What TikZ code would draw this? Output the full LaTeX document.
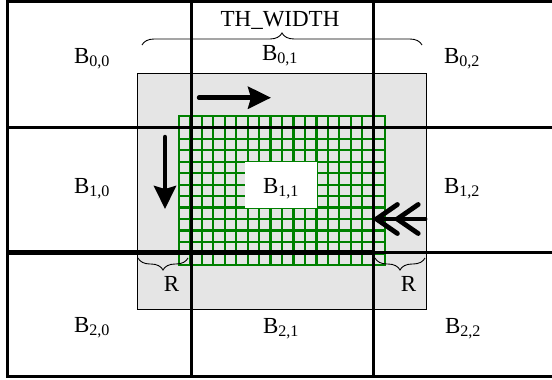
\documentclass[tikz,border=0pt]{standalone}
\usepackage{fontspec}
\setmainfont{Liberation Serif}
\usepackage{xcolor}
\usetikzlibrary{arrows.meta, decorations.pathreplacing}
\definecolor{tgreen}{RGB}{0,128,0}
\definecolor{tgray}{RGB}{229,229,229}

\begin{document}
\begin{tikzpicture}[x=1bp, y=-1bp,
  font=\fontsize{23bp}{27bp}\selectfont,
  blockline/.style={draw=black, line width=3bp},
  halo/.style={draw=black, fill=tgray, line width=1bp},
  gridline/.style={draw=tgreen, line width=2.2bp, line cap=rect},
  brace/.style={draw=black, line width=0.9bp, decorate,
    decoration={brace, amplitude=12bp}},
  lbl/.style={anchor=base, inner sep=0pt},
  scan/.style={line width=4.5bp, line cap=round,
    -{Stealth[length=23bp, width=22bp, inset=3bp]}},
  back/.style={line width=4.8bp, line cap=round,
    -{Straight Barb[length=21bp, width=29bp, round, sep=-5bp]
      Straight Barb[length=21bp, width=29bp, round]}}]

  \useasboundingbox (0,0) rectangle (552,379);

  % Halo region of the centre block
  \draw[halo] (137,73.3) rectangle (426.7,309);

  % ── Thread grid ── 18 x 13 cells
  \foreach \i in {0,...,18}
    \draw[gridline] ({178.8+11.47*\i},115.8) -- ({178.8+11.47*\i},264.9);
  \foreach \j in {0,...,13}
    \draw[gridline] (178.8,{115.8+11.47*\j}) -- (385.3,{115.8+11.47*\j});
  \node[fill=white, minimum width=72bp, minimum height=45.5bp,
    inner sep=0pt] (b11box) at (281,185) {};

  % ── Block boundaries ──
  \draw[blockline] (552,1.5) -- (7.5,1.5) -- (7.5,376.5) -- (552,376.5);
  \draw[blockline] (7.5,127) -- (552,127);
  \draw[blockline, line width=5bp] (7.5,252) -- (373,252);
  \draw[blockline] (373,252) -- (552,252);
  \draw[blockline] (191,1.5) -- (191,376.5);
  \draw[blockline] (373,1.5) -- (373,376.5);

  % Block labels
  \node[lbl] (b00) at (92,63) {B\textsubscript{0,0}};
  \node[lbl] (b01) at (280,60) {B\textsubscript{0,1}};
  \node[lbl] (b02) at (462,63) {B\textsubscript{0,2}};
  \node[lbl] (b10) at (92,193) {B\textsubscript{1,0}};
  \node[lbl] (b11) at (281,193) {B\textsubscript{1,1}};
  \node[lbl] (b12) at (462,193) {B\textsubscript{1,2}};
  \node[lbl] (b20) at (92,332) {B\textsubscript{2,0}};
  \node[lbl] (b21) at (281,333) {B\textsubscript{2,1}};
  \node[lbl] (b22) at (463,333) {B\textsubscript{2,2}};

  % ── Braces ──
  \draw[brace] (142,45) -- (422,45);
  \node[lbl] (thw) at (280,26.7) {TH\_WIDTH};
  \draw[brace] (188,258) -- (138,258);
  \node[lbl] (rleft) at (171.5,291) {R};
  \draw[brace] (425,258) -- (375,258);
  \node[lbl] (rright) at (408.5,291) {R};

  % ── Sweep directions ──
  \draw[scan] (199,97.7) -- (271,97.7);
  \draw[scan] (165,137) -- (165,209);
  \draw[back] (425,219) -- (374,219);

\end{tikzpicture}
\end{document}
